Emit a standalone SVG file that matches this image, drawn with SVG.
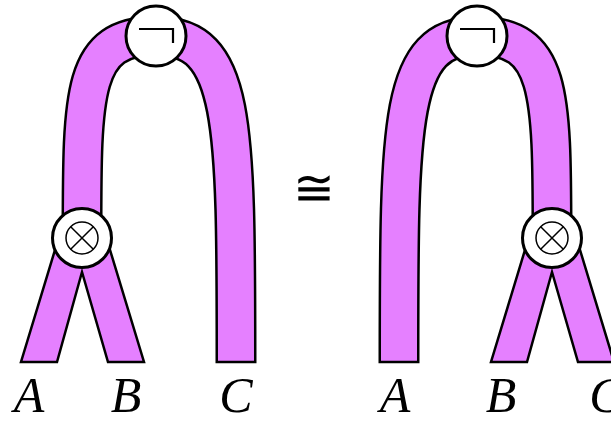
<svg xmlns="http://www.w3.org/2000/svg" width="611" height="423" viewBox="0 0 611 423">
<style>
.bo{fill:none;stroke:#000;stroke-width:41;stroke-linecap:butt}
.bi{fill:none;stroke:#E580FF;stroke-width:36;stroke-linecap:butt}
.leg{fill:#E580FF;stroke:#000;stroke-width:2.5;stroke-linejoin:miter}
.node{fill:#fff;stroke:#000;stroke-width:3}
.thin{fill:none;stroke:#000;stroke-width:1.5}
.neg{fill:none;stroke:#000;stroke-width:2.2}
.lbl{font-family:"Liberation Serif",serif;font-style:italic;font-size:50px;fill:#000;text-anchor:middle}
</style>
<g id="connectors">
<!-- left diagram -->
<polygon class="leg" points="21,362 57,362 82,272 108,362 144,362 107,240 58,240"/>
<path class="bo" d="M82,237 C82,90 82,36 156,36 C236,36 236,120 236,363.25"/>
<path class="bi" d="M82,237 C82,90 82,36 156,36 C236,36 236,120 236,360.75"/>
<!-- right diagram -->
<polygon class="leg" points="491,362 527,362 552,272 578,362 614,362 577,240 528,240"/>
<path class="bo" d="M399,363.25 C399,120 399,36 477,36 C551,36 552,90 552,237"/>
<path class="bi" d="M399,360.75 C399,120 399,36 477,36 C551,36 552,90 552,237"/>
</g>
<g id="neg-left">
<circle class="node" cx="156" cy="36" r="30"/>
<path class="neg" d="M139,29 H173 V43"/>
</g>
<g id="tensor-left">
<circle class="node" cx="82" cy="238" r="29.5"/>
<circle class="thin" cx="82" cy="238" r="16"/>
<path class="thin" d="M70.7,226.7 L93.3,249.3 M93.3,226.7 L70.7,249.3"/>
</g>
<g id="neg-right">
<circle class="node" cx="477" cy="36" r="30"/>
<path class="neg" d="M460,29 H494 V43"/>
</g>
<g id="tensor-right">
<circle class="node" cx="552" cy="238" r="29.5"/>
<circle class="thin" cx="552" cy="238" r="16"/>
<path class="thin" d="M540.7,226.7 L563.3,249.3 M563.3,226.7 L540.7,249.3"/>
</g>
<g id="labels">
<text class="lbl" x="29" y="412">A</text>
<text class="lbl" x="126" y="412">B</text>
<text class="lbl" x="236" y="412">C</text>
<text class="lbl" x="395" y="412">A</text>
<text class="lbl" x="501" y="412">B</text>
<text class="lbl" x="606" y="412">C</text>
<text x="314" y="205" style="font-family:'DejaVu Serif',serif;font-size:50px;text-anchor:middle">≅</text>
</g>
</svg>
